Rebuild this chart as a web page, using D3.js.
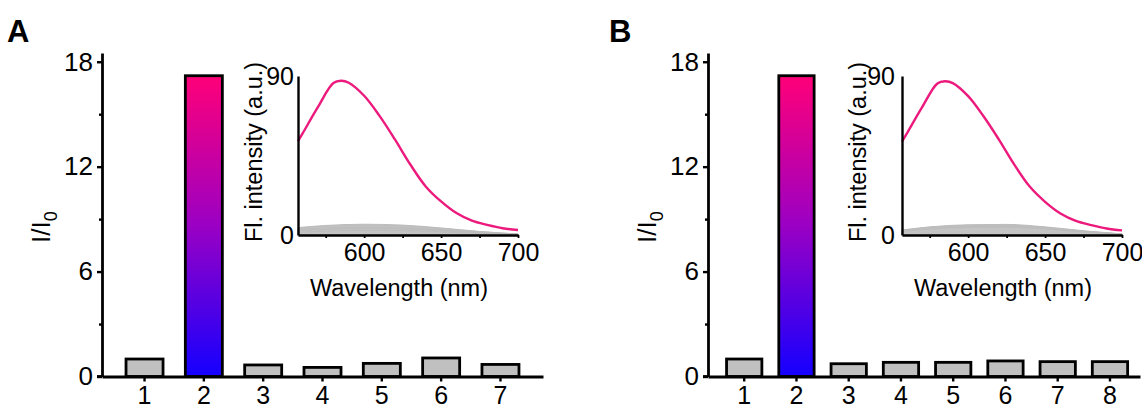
<!DOCTYPE html>
<html>
<head>
<meta charset="utf-8">
<script src="https://cdn.jsdelivr.net/npm/d3@7/dist/d3.min.js"></script>
<style>
  html, body { margin: 0; padding: 0; background: #fff; }
  svg { display: block; font-family: "Liberation Sans", Arial, sans-serif; }
</style>
</head>
<body>
<script>
// ---- Bar data: relative intensity I/I0 for each sample ----
const categoriesA = ["1", "2", "3", "4", "5", "6", "7"];
const ratioA      = [1.0, 17.2, 0.66, 0.52, 0.75, 1.06, 0.69];

const categoriesB = ["1", "2", "3", "4", "5", "6", "7", "8"];
const ratioB      = [1.0, 17.2, 0.73, 0.81, 0.81, 0.89, 0.85, 0.85];

// Highlighted sample (drawn with the gradient fill)
const highlightA = "2";
const highlightB = "2";

// ---- Bar-chart axis ticks ----
const yMajorTicks = [0, 6, 12, 18];
const yMinorTicks = [3, 9, 15];

// ---- Inset emission spectra ----
const wavelength = [557, 560, 570, 580, 585, 590, 600, 610, 620, 630, 640, 650, 660, 670, 680, 690, 700];
const spectrumA  = [53.1, 57.5, 72.5, 86.0, 87.3, 86.2, 78.8, 67.4, 54.1, 39.9, 27.5, 19.0, 12.4, 8.1, 5.7, 3.8, 2.8];
const spectrumB  = [52.8, 57.2, 72.2, 85.8, 87.0, 86.0, 78.6, 67.2, 54.0, 39.8, 27.4, 18.8, 12.2, 8.0, 5.6, 3.7, 2.6];

// Weak emission of the remaining samples
const grayWavelength = [557, 575, 600, 625, 650, 675, 700];
const graySpectraA = [
  [4.2, 5.4, 6.1, 5.6, 4.0, 2.0, 0.6],
  [3.8, 5.0, 5.6, 5.2, 3.7, 1.9, 0.5],
  [3.0, 4.0, 4.5, 4.2, 3.0, 1.5, 0.4],
  [2.6, 3.5, 4.0, 3.7, 2.6, 1.3, 0.4],
  [2.3, 3.2, 3.6, 3.4, 2.4, 1.2, 0.3],
  [1.5, 2.2, 2.6, 2.5, 1.8, 0.9, 0.2]
];
const graySpectraB = [
  [2.8, 4.6, 5.8, 6.0, 4.6, 2.4, 0.6],
  [2.6, 4.3, 5.4, 5.6, 4.3, 2.2, 0.6],
  [2.4, 4.0, 5.0, 5.2, 4.0, 2.0, 0.5],
  [2.4, 3.9, 4.9, 5.1, 3.9, 2.0, 0.5],
  [2.2, 3.7, 4.6, 4.8, 3.7, 1.9, 0.5],
  [2.1, 3.6, 4.5, 4.7, 3.6, 1.8, 0.5],
  [2.0, 3.4, 4.2, 4.4, 3.4, 1.7, 0.4]
];

const insetXTicks = [575, 600, 625, 650, 675, 700];
const insetXLabels = [600, 650, 700];
const insetYTicks = [0, 90];

const W = 1142, H = 409;
const FONT = "Liberation Sans, Arial, sans-serif";
const svg = d3.select("body").append("svg")
  .attr("width", W).attr("height", H)
  .attr("viewBox", `0 0 ${W} ${H}`);

svg.append("rect").attr("width", W).attr("height", H).attr("fill", "#fff");

const defs = svg.append("defs");

function drawPanel(cfg) {
  const g = svg.append("g");

  // gradient for the highlighted bar
  const grad = defs.append("linearGradient")
    .attr("id", cfg.id + "-grad")
    .attr("x1", 0).attr("y1", 1).attr("x2", 0).attr("y2", 0);
  grad.append("stop").attr("offset", "0%").attr("stop-color", "#1400ff");
  grad.append("stop").attr("offset", "50%").attr("stop-color", "#9a00c4");
  grad.append("stop").attr("offset", "100%").attr("stop-color", "#ff0078");

  // panel letter
  g.append("text")
    .attr("x", cfg.letterX).attr("y", 42)
    .attr("font-size", 31).attr("font-weight", "bold")
    .text(cfg.letter);

  // scales
  const x = d3.scaleBand()
    .domain(cfg.categories)
    .range([cfg.x0, cfg.x1])
    .paddingInner(cfg.padInner)
    .paddingOuter(cfg.padOuter)
    .align(cfg.align);
  const y = d3.scaleLinear().domain([0, 18.5]).range([376.5, 53]);

  // bars
  g.append("g").selectAll("rect")
    .data(cfg.categories.map((c, i) => ({ c, v: cfg.values[i] })))
    .join("rect")
    .attr("x", d => x(d.c))
    .attr("width", x.bandwidth())
    .attr("y", d => y(d.v))
    .attr("height", d => y(0) - y(d.v))
    .attr("fill", d => d.c === cfg.highlight ? `url(#${cfg.id}-grad)` : "#c0c0c0")
    .attr("stroke", "#000")
    .attr("stroke-width", 2.8);

  // y axis (major + minor)
  const yAxis = g.append("g")
    .attr("transform", `translate(${cfg.x0},0)`)
    .call(d3.axisLeft(y).tickValues(yMajorTicks).tickSize(5).tickSizeOuter(0).tickPadding(4).tickFormat(d3.format("d")));
  const yMinor = g.append("g")
    .attr("transform", `translate(${cfg.x0},0)`)
    .call(d3.axisLeft(y).tickValues(yMinorTicks).tickSize(3).tickSizeOuter(0).tickFormat(""));
  yMinor.select(".domain").remove();

  // x axis
  const xAxis = g.append("g")
    .attr("transform", `translate(0,${y(0)})`)
    .call(d3.axisBottom(x).tickSize(5).tickSizeOuter(0).tickPadding(5));

  [yAxis, yMinor, xAxis].forEach(a => {
    a.select(".domain").attr("stroke", "#000").attr("stroke-width", 2.8);
    a.selectAll(".tick line").attr("stroke", "#000").attr("stroke-width", 2.4);
    a.selectAll(".tick text").attr("font-size", 26).attr("fill", "#000")
      .attr("font-family", FONT);
  });
  xAxis.selectAll(".tick text").attr("font-size", 25);

  // extend x-axis line slightly left past the y axis
  g.append("line")
    .attr("x1", cfg.x0 - 5).attr("x2", cfg.x0)
    .attr("y1", y(0)).attr("y2", y(0))
    .attr("stroke", "#000").attr("stroke-width", 2.8);

  // y-axis title I/I0
  const yt = g.append("text")
    .attr("transform", `translate(${cfg.x0 - 52},${(y(0) + y(18)) / 2 + 8}) rotate(-90)`)
    .attr("text-anchor", "middle")
    .attr("font-size", 26);
  yt.append("tspan").text("I/I");
  yt.append("tspan").attr("font-size", 18).attr("dy", 7).text("0");

  // ---- inset spectrum ----
  const xs = d3.scaleLinear().domain([557, 700]).range([cfg.ix0, cfg.ix0 + 220]);
  const ys = d3.scaleLinear().domain([0, 90]).range([235, 76]);

  const grayArea = d3.area()
    .x((d, i) => xs(grayWavelength[i]))
    .y0(ys(0))
    .y1(d => ys(d))
    .curve(d3.curveMonotoneX);
  g.append("g").selectAll("path")
    .data(cfg.gray)
    .join("path")
    .attr("d", grayArea)
    .attr("fill", "#c4c4c4")
    .attr("stroke", "#bdbdbd")
    .attr("stroke-width", 1);

  const line = d3.line()
    .x((d, i) => xs(wavelength[i]))
    .y(d => ys(d))
    .curve(d3.curveCatmullRom.alpha(0.5));
  g.append("path")
    .datum(cfg.spectrum)
    .attr("d", line)
    .attr("fill", "none")
    .attr("stroke", "#ec1a7d")
    .attr("stroke-width", 2.4);

  const ixAxis = g.append("g")
    .attr("transform", `translate(0,${ys(0)})`)
    .call(d3.axisBottom(xs).tickValues(insetXTicks).tickSize(3).tickSizeOuter(0).tickPadding(5)
      .tickFormat(d => insetXLabels.includes(d) ? d : ""));
  const iyAxis = g.append("g")
    .attr("transform", `translate(${cfg.ix0},0)`)
    .call(d3.axisLeft(ys).tickValues(insetYTicks).tickSize(0).tickSizeOuter(0).tickPadding(cfg.iyPad));
  [ixAxis, iyAxis].forEach(a => {
    a.select(".domain").attr("stroke", "#000").attr("stroke-width", 2.4);
    a.selectAll(".tick line").attr("stroke", "#000").attr("stroke-width", 1.8);
    a.selectAll(".tick text").attr("font-size", 25).attr("fill", "#000")
      .attr("font-family", FONT);
  });

  g.append("text")
    .attr("x", cfg.ix0 + 101).attr("y", 296)
    .attr("text-anchor", "middle")
    .attr("font-size", 23.5)
    .text("Wavelength (nm)");

  g.append("text")
    .attr("transform", `translate(${cfg.ix0 - 36},152) rotate(-90)`)
    .attr("text-anchor", "middle")
    .attr("font-size", 23.5)
    .text("Fl. intensity (a.u.)");
}

drawPanel({
  id: "A", letter: "A", letterX: 7,
  categories: categoriesA, values: ratioA, highlight: highlightA,
  x0: 102, x1: 543, padInner: 0.376, padOuter: 0.405, align: 0.5,
  ix0: 298, iyPad: 4,
  spectrum: spectrumA, gray: graySpectraA
});

drawPanel({
  id: "B", letter: "B", letterX: 609,
  categories: categoriesB, values: ratioB, highlight: highlightB,
  x0: 708, x1: 1140, padInner: 0.324, padOuter: 0.296, align: 0.6,
  ix0: 902, iyPad: 7,
  spectrum: spectrumB, gray: graySpectraB
});
</script>
</body>
</html>
